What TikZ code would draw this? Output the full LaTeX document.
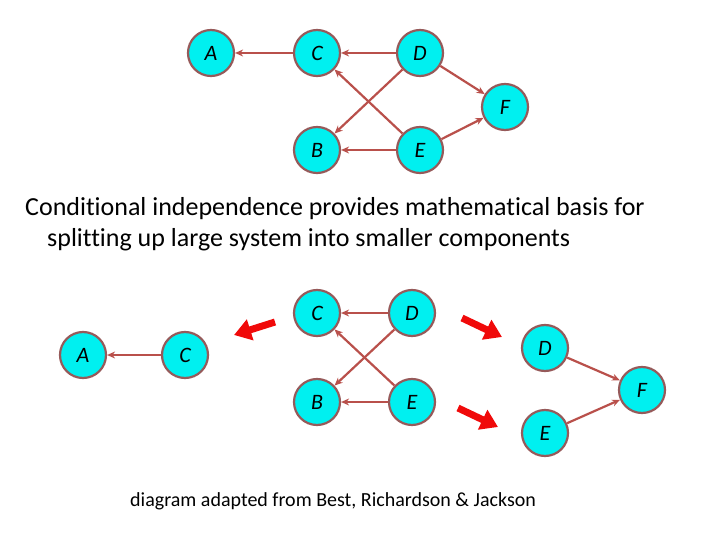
\documentclass[tikz,border=0pt]{standalone}
\usepackage{fontspec}
\setmainfont[Ligatures=NoCommon]{Carlito}
\usetikzlibrary{arrows.meta}
\definecolor{nodefill}{RGB}{0,240,240}
\definecolor{nodeedge}{RGB}{150,90,90}
\definecolor{edgecol}{RGB}{185,80,75}
\definecolor{bigred}{RGB}{240,10,10}
\tikzset{
  vnode/.style={circle, draw=nodeedge, line width=2.2pt, fill=nodefill, minimum size=46pt, inner sep=0pt, font=\fontsize{22}{22}\selectfont\itshape},
  edge/.style={draw=edgecol, line width=2.2pt, -{Stealth[length=8pt,width=7pt]}},
  bigarrow/.style={draw=bigred, line width=7pt, -{Triangle[length=17pt,width=21pt]}, bigred}
}
\begin{document}
\begin{tikzpicture}[x=1pt,y=-1pt]
\useasboundingbox (0,0) rectangle (720,540);
% top graph
\node[vnode] (A) at (211,53) {A};
\node[vnode] (C) at (317,53) {C};
\node[vnode] (D) at (420,53) {D};
\node[vnode] (F) at (505,107) {F};
\node[vnode] (B) at (317,150) {B};
\node[vnode] (E) at (420,150) {E};
\draw[edge] (C) -- (A);
\draw[edge] (D) -- (C);
\draw[edge] (D) -- (F);
\draw[edge] (D) -- (B);
\draw[edge] (E) -- (C);
\draw[edge] (E) -- (B);
\draw[edge] (E) -- (F);
% text
\node[anchor=base west, font=\fontsize{26}{26}\selectfont, inner sep=0pt] (t1) at (25,215) {Conditional independence provides mathematical basis for};
\node[anchor=base west, font=\fontsize{26}{26}\selectfont, inner sep=0pt] (t2) at (47,246) {splitting up large system into smaller components};
% bottom left
\node[vnode] (A2) at (83,355) {A};
\node[vnode] (C2) at (185,355) {C};
\draw[edge] (C2) -- (A2);
% bottom middle
\node[vnode] (C3) at (317,313) {C};
\node[vnode] (D3) at (412,313) {D};
\node[vnode] (B3) at (317,402) {B};
\node[vnode] (E3) at (412,402) {E};
\draw[edge] (D3) -- (C3);
\draw[edge] (D3) -- (B3);
\draw[edge] (E3) -- (C3);
\draw[edge] (E3) -- (B3);
% bottom right
\node[vnode] (D4) at (545,348) {D};
\node[vnode] (E4) at (545,433) {E};
\node[vnode] (F4) at (642,390) {F};
\draw[edge] (D4) -- (F4);
\draw[edge] (E4) -- (F4);
% big red arrows
\coordinate (r1s) at (275,322);
\coordinate (r1e) at (234,335);
\coordinate (r2s) at (462,318);
\coordinate (r2e) at (502,337);
\coordinate (r3s) at (458,408);
\coordinate (r3e) at (498,427);
\draw[bigarrow] (r1s) -- (r1e);
\draw[bigarrow] (r2s) -- (r2e);
\draw[bigarrow] (r3s) -- (r3e);
% caption
\node[anchor=base west, font=\fontsize{20}{20}\selectfont, inner sep=0pt] (cap) at (130,506) {diagram adapted from Best, Richardson \& Jackson};
\end{tikzpicture}
\end{document}
